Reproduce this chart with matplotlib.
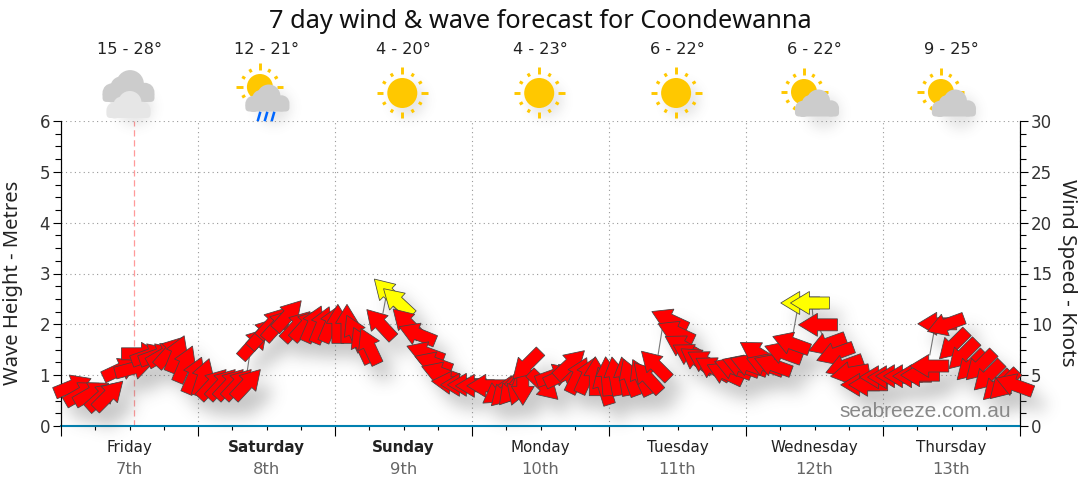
import numpy as np
import matplotlib
matplotlib.use("Agg")
import matplotlib.pyplot as plt
from matplotlib.path import Path
from matplotlib.patches import Polygon, Circle, FancyBboxPatch
from matplotlib.ticker import MultipleLocator

W, H = 1080, 490

title = "7 day wind & wave forecast for Coondewanna"
days = ["Friday", "Saturday", "Sunday", "Monday", "Tuesday", "Wednesday", "Thursday"]
dates = ["7th", "8th", "9th", "10th", "11th", "12th", "13th"]
bold_days = ["Saturday", "Sunday"]
temps = ["15 - 28°", "12 - 21°", "4 - 20°", "4 - 23°", "6 - 22°", "6 - 22°", "9 - 25°"]
icons = ["cloudy", "showers", "sun", "sun", "sun", "partly", "partly"]

# forecast hour, wave height in metres, direction the arrow points (deg, anticlockwise from east)
hours = [2.1, 3.7, 5.4, 7.2, 8.4, 10.5, 12.8, 14.0, 15.6, 17.0, 18.2, 19.1, 20.3, 21.7, 23.3, 24.9,
         26.6, 28.2, 29.6, 31.0, 32.6, 33.8, 35.4, 37.0, 38.0, 39.8, 41.3, 42.9, 44.2, 45.7, 47.3, 48.5,
         50.1, 51.5, 52.7, 54.0, 55.9, 57.3, 59.0, 60.6, 62.4, 63.8, 65.2, 66.4, 68.3, 69.9, 71.1, 72.5,
         74.5, 76.7, 77.8, 79.0, 80.1, 80.9, 81.6, 84.6, 86.5, 87.9, 89.2, 90.6, 92.2, 93.6, 95.1, 95.7,
         97.1, 98.8, 99.7, 101.6, 102.7, 104.1, 106.6, 107.7, 108.8, 110.2, 111.4, 112.8, 114.2, 116.3, 117.7, 119.1, 120.5,
         121.9, 123.3, 124.7, 126.5, 127.9, 129.5, 131.2, 132.6, 134.2, 135.6, 137.2, 138.2, 140.0, 141.4, 143.3, 144.7,
         146.1, 147.5, 149.1, 150.5, 152.1, 153.5, 155.0, 156.3, 158.0, 159.4, 161.0, 162.4, 164.0, 165.2, 167.0]
wave = [0.79, 0.65, 0.65, 0.59, 0.61, 1.12, 1.14, 1.42, 1.40, 1.40, 1.42, 1.46, 1.42, 1.22, 1.00, 0.96,
        0.83, 0.83, 0.83, 0.83, 0.83, 1.63, 1.83, 2.03, 1.99, 2.18, 1.97, 1.99, 2.01, 1.99, 2.01, 2.01,
        2.01, 1.83, 1.59, 1.57, 2.01, 2.62, 2.44, 2.03, 1.81, 1.44, 1.24, 1.04, 0.85, 0.81, 0.81, 0.79,
        0.79, 0.67, 0.67, 0.71, 0.77, 0.79, 1.20, 0.79, 1.00, 1.00, 1.22, 1.00, 1.00, 0.98, 0.79, 0.98,
        0.98, 0.98, 0.96, 0.96, 0.96, 1.20, 2.09, 1.85, 1.57, 1.40, 1.30, 1.26, 1.14, 1.04, 1.14, 1.18, 1.20,
        1.44, 1.20, 1.20, 1.44, 1.63, 2.42, 2.42, 1.99, 1.61, 1.42, 1.18, 1.04, 0.81, 0.81, 0.96, 0.96,
        0.98, 0.98, 0.98, 1.00, 1.18, 2.01, 1.99, 1.59, 1.40, 1.18, 1.18, 0.98, 0.79, 0.81, 0.81]
direction = [22, 30, 30, 42, 45, 25, 15, 0, 20, 20, 30, 48, 68, 67, 67, 72,
             47, 47, 47, 47, 47, 48, 48, 48, 48, 48, 47, 48, 66, 68, 67, 90,
             90, 115, 115, 115, 133, 135, 137, 135, 158, 160, 160, 160, 175, 180, 180, 180,
             180, 215, 225, 230, 250, 270, 225, -44, 20, 25, 43, 64, 66, 90, 107, 95,
             100, 100, 110, 115, 132, 135, 155, 155, 150, 150, 145, 150, 150, 155, 160, 160, 160,
             148, 160, 160, 160, 160, 180, 180, 180, 200, 200, 200, 190, 180, 180, 180, 180,
             180, 180, 180, 180, 180, 180, 200, 225, 225, 225, 225, 225, 225, 225, 160]
yellow_hours = [57.3, 59.0, 129.5, 131.2]

# thin lines from a shifted arrow back to where it belongs
leader_from_h = [32.6, 56.4, 80.8, 104.6, 128.2, 131.6, 133.0, 152.2]
leader_from_m = [1.06, 2.22, 0.81, 1.40, 1.79, 2.32, 1.89, 1.40]
leader_to_h = [33.1, 56.9, 80.9, 105.3, 128.9, 131.7, 133.5, 152.9]
leader_to_m = [1.44, 2.52, 0.98, 1.89, 2.22, 2.18, 1.75, 1.83]

now_hour = 12.8

fig = plt.figure(figsize=(W / 100, H / 100), dpi=100, facecolor="white")
ax = fig.add_axes([61 / W, 1 - 426 / H, (1020 - 61) / W, (426 - 121) / H], zorder=1)
ax.set_xlim(0, 168)
ax.set_ylim(0, 6)
ax.patch.set_visible(False)

ax.xaxis.set_major_locator(MultipleLocator(24))
ax.xaxis.set_minor_locator(MultipleLocator(6))
ax.yaxis.set_major_locator(MultipleLocator(1))
ax.yaxis.set_minor_locator(MultipleLocator(0.25))
ax.set_xticklabels([])
ax.tick_params(axis="y", which="major", length=6, width=0.8, labelsize=12, labelcolor="#333333", pad=2)
ax.tick_params(axis="y", which="minor", length=4, width=0.8)
ax.tick_params(axis="x", which="major", length=7, width=0.8)
ax.tick_params(axis="x", which="minor", length=3, width=0.8)
ax.grid(True, which="major", color="#999999", linestyle=(0, (1, 3)), linewidth=0.8)
ax.set_axisbelow(True)
ax.spines["top"].set_visible(False)
ax.spines["bottom"].set_color("#0080b0")
ax.spines["bottom"].set_linewidth(1.5)
ax.axvline(now_hour, color="#ff9a9a", linestyle=(0, (5, 3)), linewidth=0.9)

ax2 = ax.twinx()
ax2.set_ylim(0, 30)
ax2.yaxis.set_major_locator(MultipleLocator(5))
ax2.yaxis.set_minor_locator(MultipleLocator(1.25))
ax2.tick_params(axis="y", which="major", length=6, width=0.8, labelsize=12, labelcolor="#333333", pad=2)
ax2.tick_params(axis="y", which="minor", length=4, width=0.8)
ax2.spines["top"].set_visible(False)
ax2.spines["bottom"].set_visible(False)

for a, b, c, d in zip(leader_from_h, leader_to_h, leader_from_m, leader_to_m):
    ax.plot([a, b], [c, d], color="#777777", linewidth=0.8, zorder=2)

for i, day in enumerate(days):
    noon = 12 + 24 * i
    ax.text(noon, -0.069, day, transform=ax.get_xaxis_transform(), ha="center", va="center",
            fontsize=10.9, color="#222222",
            fontweight="bold" if day in bold_days else "normal")
    ax.text(noon, -0.141, dates[i], transform=ax.get_xaxis_transform(), ha="center", va="center",
            fontsize=11.8, color="#666666")
    ax.text(noon, 1.233, temps[i], transform=ax.get_xaxis_transform(), ha="center", va="center",
            fontsize=11.6, color="#222222")

fig.text(540 / W, 1 - 21 / H, title, ha="center", va="center", fontsize=18.2, family="Noto Sans", color="#111111")
fig.text(13 / W, 1 - 283 / H, "Wave Height - Metres", rotation=90, ha="center", va="center",
         fontsize=14.5, family="Noto Sans", color="#222222")
fig.text(1067 / W, 1 - 273 / H, "Wind Speed - Knots", rotation=270, ha="center", va="center",
         fontsize=14.8, family="Noto Sans", color="#222222")

# top layer in plain pixels, y running down
pix = fig.add_axes([0, 0, 1, 1], zorder=2)
pix.set_xlim(0, W)
pix.set_ylim(H, 0)
pix.axis("off")


def arrow_points(cx, cy, angle):
    # size is fixed on the page: 39 long, wide head, thick shaft
    shape = np.array([[19.5, 0], [0.5, 11.5], [0.5, 6], [-19.5, 6],
                      [-19.5, -6], [0.5, -6], [0.5, -11.5]])
    a = np.radians(angle)
    x = shape[:, 0] * np.cos(a) - shape[:, 1] * np.sin(a)
    y = shape[:, 0] * np.sin(a) + shape[:, 1] * np.cos(a)
    return np.column_stack([cx + x, cy - y])


def blur(img, sigma):
    k = np.arange(-int(3 * sigma), int(3 * sigma) + 1)
    g = np.exp(-k ** 2 / (2 * sigma ** 2))
    g = g / g.sum()
    fy = np.fft.fft(g, img.shape[0] + len(k))[:, None]
    fx = np.fft.fft(g, img.shape[1] + len(k))[None, :]
    pad = np.zeros((img.shape[0] + len(k), img.shape[1] + len(k)))
    pad[:img.shape[0], :img.shape[1]] = img
    out = np.fft.ifft2(np.fft.fft2(pad) * fy * fx).real
    r = len(k) // 2
    return out[r:r + img.shape[0], r:r + img.shape[1]]


def shadow_layer(paths, dx, dy, sigma, strength):
    xx, yy = np.meshgrid(np.arange(W) + 0.5, np.arange(H) + 0.5)
    mask = np.zeros((H, W))
    for p in paths:
        box = p.get_extents()
        x0, x1 = max(int(box.x0 + dx), 0), min(int(box.x1 + dx) + 1, W)
        y0, y1 = max(int(box.y0 + dy), 0), min(int(box.y1 + dy) + 1, H)
        pts = np.column_stack([xx[y0:y1, x0:x1].ravel() - dx, yy[y0:y1, x0:x1].ravel() - dy])
        hit = p.contains_points(pts).reshape(y1 - y0, x1 - x0)
        mask[y0:y1, x0:x1][hit] = 1
    rgba = np.zeros((H, W, 4))
    rgba[..., :3] = 0.35
    rgba[..., 3] = np.clip(blur(mask, sigma), 0, 1) * strength
    pix.imshow(rgba, extent=(0, W, H, 0), zorder=1, interpolation="bilinear", aspect="auto")
    pix.set_xlim(0, W)
    pix.set_ylim(H, 0)


centres = pix.transData.inverted().transform(ax.transData.transform(np.column_stack([hours, wave])))
polys = [arrow_points(c[0], c[1], d) for c, d in zip(centres, direction)]
shadow_layer([Path(np.vstack([p, p[:1]]), closed=True) for p in polys], 12, 15, 8, 0.34)

pix.text(925, 411, "seabreeze.com.au", fontsize=15, family="Liberation Sans", color="#888888",
         ha="center", va="center", zorder=2)

for h, p in zip(hours, polys):
    pix.add_patch(Polygon(p, closed=True, facecolor="#ffff00" if h in yellow_hours else "#ff0000",
                          edgecolor="#444444", linewidth=0.55, zorder=3, joinstyle="miter"))


def draw_sun(cx, cy, r, rays):
    pix.add_patch(Circle((cx, cy), r, color="#ffc800", lw=0, zorder=4))
    for k in range(rays):
        a = 2 * np.pi * k / rays + np.pi / 2
        long_ray = k % 3 == 0
        r0, r1 = r + 4, r + (10.5 if long_ray else 7.5)
        pix.plot([cx + r0 * np.cos(a), cx + r1 * np.cos(a)], [cy + r0 * np.sin(a), cy + r1 * np.sin(a)],
                 color="#ffc800", linewidth=2.1, solid_capstyle="butt", zorder=4)


def draw_cloud(cx, cy, w, color, zorder):
    # bumps on top of a flat rounded base, all relative to the cloud width
    blobs = [(0.03, -0.04, 0.26), (-0.31, 0.13, 0.18), (0.31, 0.12, 0.18), (-0.14, 0.02, 0.2)]
    for x, y, r in blobs:
        pix.add_patch(Circle((cx + x * w, cy + y * w), r * w, color=color, lw=0, zorder=zorder))
    pix.add_patch(FancyBboxPatch((cx - 0.49 * w, cy + 0.1 * w), 0.98 * w, 0.2 * w,
                                 boxstyle="round,pad=0,rounding_size=4", color=color, lw=0, zorder=zorder))


icon_shadow = []
for i, kind in enumerate(icons):
    cx = 129 + 136.9 * i
    if kind == "sun":
        draw_sun(cx - 0.5, 93, 15, 12)
        icon_shadow.append(Path.circle((cx, 93), 17))
    elif kind == "cloudy":
        draw_cloud(cx - 0.5, 86, 53, "#cccccc", 4)
        draw_cloud(cx - 0.5, 104.5, 45, "#e6e6e6", 5)
        icon_shadow.append(Path.circle((cx, 100), 18))
    elif kind == "showers":
        draw_sun(cx - 6, 87, 13, 12)
        draw_cloud(cx + 1.5, 98, 45, "#cccccc", 5)
        icon_shadow.append(Path.circle((cx + 2, 100), 17))
        for x in (260, 267, 274):
            pix.plot([x, x - 2], [113, 120], color="#0066ff", linewidth=1.8, zorder=5)
    else:
        draw_sun(cx - 9.5, 92, 13, 12)
        draw_cloud(cx + 3.5, 103, 45, "#cccccc", 5)
        icon_shadow.append(Path.circle((cx + 4, 105), 17))
shadow_layer(icon_shadow, 6, 8, 6, 0.15)

fig.savefig("out.png", dpi=100)
